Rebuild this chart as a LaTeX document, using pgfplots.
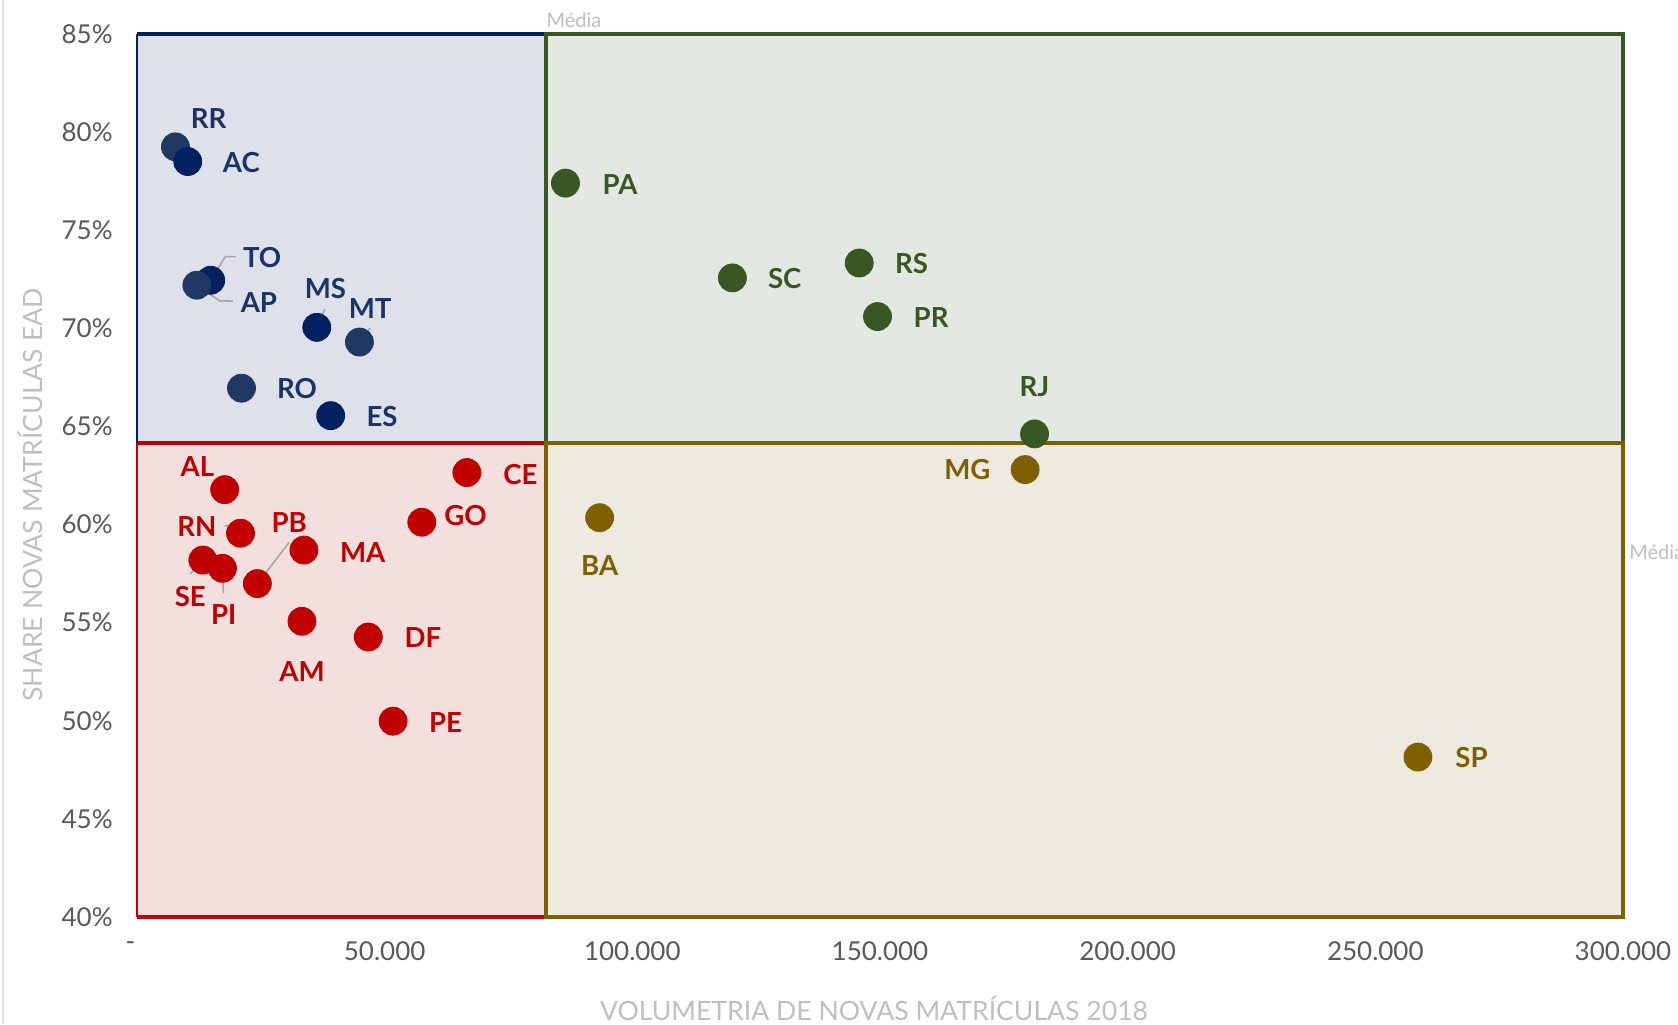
\documentclass[border=0pt]{standalone}
\usepackage{pgfplots}
\usepackage{pgfplotstable}
\pgfplotsset{compat=1.18}
\usepackage{fontspec}
\setmainfont{Lato}

\definecolor{navyA}{HTML}{002060}
\definecolor{navyB}{HTML}{203864}
\definecolor{navyL}{HTML}{1C3366}
\definecolor{grn}{HTML}{385723}
\definecolor{rd}{HTML}{C00000}
\definecolor{brn}{HTML}{7F6000}
\definecolor{qblue}{HTML}{DEE1EA}
\definecolor{qgreen}{HTML}{E3E8E2}
\definecolor{qred}{HTML}{F4DFDF}
\definecolor{qbrown}{HTML}{EFEAE0}
\definecolor{tickgray}{HTML}{595959}
\definecolor{titlegray}{HTML}{BFBFBF}
\definecolor{leadgray}{HTML}{A6A6A6}

% x = novas matriculas, y = share EAD (%), dx/dy = label offset (pt)
\pgfplotstableread{
x y lab dx dy
7760 79.25 RR 16.6 14.4
}\navyR
\pgfplotstableread{
x y lab dx dy
10250 78.5 AC 26.8 -0.5
14880 72.45 TO 25.7 11.2
36300 70.05 MS 4.3 19.3
39100 65.55 ES 25.7 -0.5
}\navyAt
\pgfplotstableread{
x y lab dx dy
12090 72.2 AP 31.0 -8.6
44900 69.3 MT 5.4 16.6
21100 66.95 RO 27.8 0
}\navyBt
\pgfplotstableread{
x y lab dx dy
86500 77.4 PA 27.3 -0.5
120200 72.57 SC 26.2 -0.5
145800 73.33 RS 26.2 -0.5
149500 70.6 PR 26.8 -0.5
181200 64.62 RJ 0 23.5
}\greent
\pgfplotstableread{
x y lab dx dy
179300 62.8 MG -28.9 0
93400 60.35 BA 0 -24
258600 48.15 SP 26.8 0
}\brownt
\pgfplotstableread{
x y lab dx dy
17700 61.78 AL -13.6 11.7
66600 62.65 CE 26.8 -1
57500 60.12 GO 21.9 3.2
33700 58.7 MA 29.4 -1
13300 58.19 SE -6.3 -18.1
17250 57.77 PI 0.6 -23.1
20900 59.56 RN -21.8 3.3
24300 56.99 PB 15.9 30.3
33300 55.07 AM 0 -25
46700 54.27 DF 27.3 -0.5
51700 49.98 PE 26.2 -0.5
}\redt

\pgfplotsset{
  quad/.style={only marks, mark=*, mark size=7pt, color=#1,
    point meta=explicit symbolic, nodes near coords,
    visualization depends on={\thisrow{dx}\as\dx},
    visualization depends on={\thisrow{dy}\as\dy},
    every node near coord/.append style={anchor=center, inner sep=0pt,
      xshift=\dx pt, yshift=\dy pt,
      font=\fontsize{13.8}{16}\selectfont\bfseries}},
}

\begin{document}
\begin{tikzpicture}
\path[use as bounding box] (0,0) rectangle (839pt,512pt);
\draw[color=black!12, line width=1pt] (1.5pt,0) -- (1.5pt,512pt);

\begin{axis}[
  at={(68.5pt,53.5pt)}, anchor=south west,
  scale only axis, width=743pt, height=441.5pt,
  xmin=0, xmax=300000, ymin=40, ymax=85,
  clip=false,
  axis line style={draw=none},
  major tick length=0pt,
  scaled x ticks=false,
  xtick={0,50000,100000,150000,200000,250000,300000},
  xticklabels={\makebox[0pt]{-\hspace{6.5pt}},50.000,100.000,150.000,200.000,250.000,300.000},
  ytick={40,45,50,55,60,65,70,75,80,85},
  yticklabels={40\%,45\%,50\%,55\%,60\%,65\%,70\%,75\%,80\%,85\%},
  ticklabel style={font=\fontsize{13}{15}\selectfont, text=tickgray},
  xticklabel style={anchor=north, inner sep=0pt, yshift=-12pt},
  yticklabel style={anchor=east, inner sep=0pt, xshift=-12pt},
]
% quadrant backgrounds
\fill[qblue] (axis cs:0,64.15) rectangle (axis cs:82600,85);
\fill[qgreen] (axis cs:82600,64.15) rectangle (axis cs:300000,85);
\fill[qred] (axis cs:0,40) rectangle (axis cs:82600,64.15);
\fill[qbrown] (axis cs:82600,40) rectangle (axis cs:300000,64.15);
% quadrant borders
\draw[navyA, line width=2.3pt] (axis cs:0,85) -- (axis cs:82600,85);
\draw[navyA, line width=1.2pt] (axis cs:0,64.15) -- (axis cs:0,85);
\draw[grn, line width=2.3pt, line join=miter] (axis cs:82600,64.15) -- (axis cs:82600,85) -- (axis cs:300000,85) -- (axis cs:300000,64.15);
\draw[rd, line width=2.3pt] (axis cs:0,64.15) -- (axis cs:82600,64.15);
\draw[rd, line width=2.3pt] (axis cs:0,40) -- (axis cs:82600,40);
\draw[rd, line width=1.2pt] (axis cs:0,40) -- (axis cs:0,64.15);
\draw[brn, line width=2.3pt, line join=miter] (axis cs:82600,40) -- (axis cs:82600,64.15) -- (axis cs:300000,64.15) -- (axis cs:300000,40) -- cycle;

\node[anchor=base west, inner sep=0pt, text=titlegray, font=\fontsize{10}{12}\selectfont] at ([yshift=3pt]axis cs:82600,85) {Média};
\node[anchor=west, inner sep=0pt, text=titlegray, font=\fontsize{10}{12}\selectfont] at ([xshift=3pt]axis cs:300000,58.6) {Média};

\addplot[quad=navyB, every node near coord/.append style={text=navyL}] table[meta=lab] {\navyR};
\addplot[quad=navyA, every node near coord/.append style={text=navyL}] table[meta=lab] {\navyAt};
\addplot[quad=navyB, every node near coord/.append style={text=navyL}] table[meta=lab] {\navyBt};
\addplot[quad=grn] table[meta=lab] {\greent};
\addplot[quad=brn] table[meta=lab] {\brownt};
\addplot[quad=rd] table[meta=lab] {\redt};

% leader lines
\begin{scope}[leadgray, line width=0.8pt]
\draw (axis cs:14880,72.45) -- ([shift={(7.3pt,11.8pt)}]axis cs:14880,72.45) -- ([shift={(12.5pt,11.8pt)}]axis cs:14880,72.45);
\draw (axis cs:12090,72.2) -- ([shift={(11.3pt,-7.8pt)}]axis cs:12090,72.2) -- ([shift={(18pt,-8pt)}]axis cs:12090,72.2);
\draw (axis cs:36300,70.05) -- ([shift={(4pt,9.1pt)}]axis cs:36300,70.05);
\draw (axis cs:44900,69.3) -- ([shift={(5.4pt,7pt)}]axis cs:44900,69.3);
\draw (axis cs:20900,59.56) -- ([shift={(-2.3pt,3.7pt)}]axis cs:20900,59.56) -- ([shift={(-7.9pt,3.7pt)}]axis cs:20900,59.56);
\draw (axis cs:24300,56.99) -- ([shift={(15.9pt,20.6pt)}]axis cs:24300,56.99);
\draw (axis cs:13300,58.19) -- ([shift={(-6.3pt,-7pt)}]axis cs:13300,58.19);
\draw (axis cs:17250,57.77) -- ([shift={(0.5pt,-12.5pt)}]axis cs:17250,57.77);
\end{scope}
\end{axis}

\node[rotate=90, text=titlegray, font=\fontsize{13.3}{15}\selectfont] at (15pt,264.5pt) {SHARE NOVAS MATRÍCULAS EAD};
\node[text=titlegray, font=\fontsize{13.3}{15}\selectfont] at (437pt,8pt) {VOLUMETRIA DE NOVAS MATRÍCULAS 2018};
\end{tikzpicture}
\end{document}
